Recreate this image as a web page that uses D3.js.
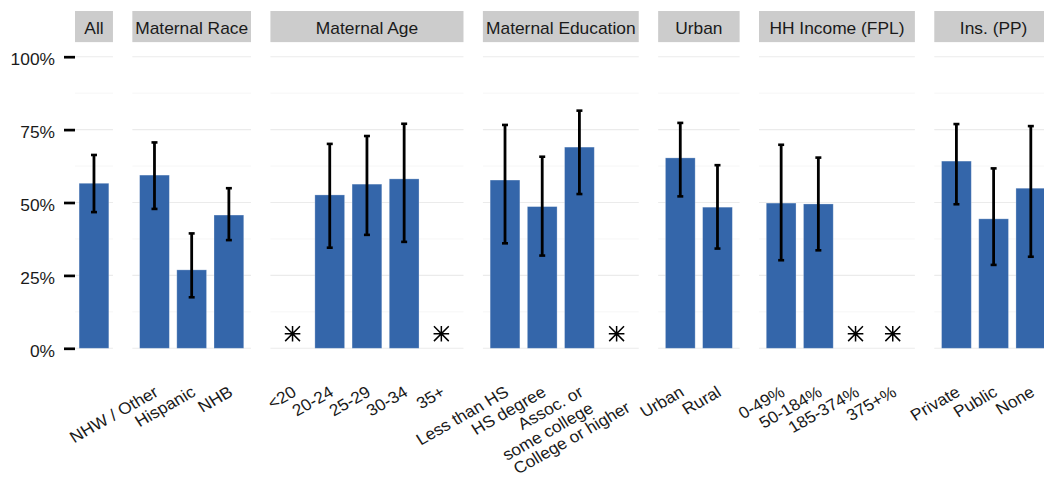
<!DOCTYPE html>
<html>
<head>
<meta charset="utf-8">
<script src="https://cdn.jsdelivr.net/npm/d3@7"></script>
<style>
  html, body { margin: 0; padding: 0; background: #ffffff; }
  svg { display: block; font-family: "Liberation Sans", Arial, Helvetica, sans-serif; }
</style>
</head>
<body>
<svg id="chart" width="1044" height="478"></svg>
<script>
// Facet groups, left to right
const panels = ["All", "Maternal Race", "Maternal Age", "Maternal Education", "Urban", "HH Income (FPL)", "Ins. (PP)"];

// One entry per category (flat, aligned arrays)
const panelOf = [
  "All",
  "Maternal Race", "Maternal Race", "Maternal Race",
  "Maternal Age", "Maternal Age", "Maternal Age", "Maternal Age", "Maternal Age",
  "Maternal Education", "Maternal Education", "Maternal Education", "Maternal Education",
  "Urban", "Urban",
  "HH Income (FPL)", "HH Income (FPL)", "HH Income (FPL)", "HH Income (FPL)",
  "Ins. (PP)", "Ins. (PP)", "Ins. (PP)"
];
const category = [
  "",
  "NHW / Other", "Hispanic", "NHB",
  "<20", "20-24", "25-29", "30-34", "35+",
  "Less than HS", "HS degree", "Assoc. or\nsome college", "College or higher",
  "Urban", "Rural",
  "0-49%", "50-184%", "185-374%", "375+%",
  "Private", "Public", "None"
];
// Percent estimates; null = suppressed (shown with an asterisk)
const estimate = [
  56.6,
  59.4, 26.9, 45.7,
  null, 52.6, 56.3, 58.1, null,
  57.7, 48.6, 69.0, null,
  65.3, 48.4,
  49.8, 49.5, null, null,
  64.2, 44.4, 54.9
];
const lower = [
  46.7,
  47.8, 17.5, 37.1,
  null, 34.5, 38.9, 36.5, null,
  36.0, 31.8, 52.9, null,
  52.1, 34.2,
  30.2, 33.6, null, null,
  49.4, 28.6, 31.4
];
const upper = [
  66.3,
  70.6, 39.4, 54.9,
  null, 70.1, 72.8, 77.0, null,
  76.6, 65.7, 81.5, null,
  77.3, 62.8,
  69.8, 65.4, null, null,
  76.9, 61.7, 76.2
];
// Extra perpendicular line offset for a few rotated tick labels
const labelShift = [
  0,
  0, 0, 0,
  0, 0, 0, 0, 0,
  0, 0, 0, 0.95,
  0, 0,
  0, 0, 0, 0,
  0, 0, 0
];
const suppressedAt = 5;            // where the asterisk sits (percent)
const yTicks = [0, 25, 50, 75, 100];
const yMinor = [12.5, 37.5, 62.5, 87.5];

const rows = category.map((c, i) => ({
  panel: panelOf[i], key: i + "", label: c,
  est: estimate[i], lo: lower[i], hi: upper[i], shift: labelShift[i]
}));

const svg = d3.select("#chart");
const FONT = 16.4;      // glyph height
const SX = 1.06;        // slightly wide lettering
const BLUE = "#3466aa";

// Vertical layout
const y = d3.scaleLinear().domain([0, 100]).range([348.3, 56.7]);
const panelTop = y(105);
const stripTop = 11;

// Horizontal layout: every category gets the same width
const step = 37.2, gap = 19.4, left = 75;
let cursor = left;
const layout = panels.map(p => {
  const sub = rows.filter(r => r.panel === p);
  const outer = sub.length === 1 ? 0.11 : 0.195;
  const w = step * (sub.length - 0.2 + 2 * outer);
  const x = d3.scaleBand().domain(sub.map(r => r.key))
    .range([cursor, cursor + w]).paddingInner(0.2).paddingOuter(outer);
  const out = { name: p, rows: sub, x, x0: cursor, x1: cursor + w };
  cursor += w + gap;
  return out;
});

// Panels
layout.forEach(P => {
  const g = svg.append("g");

  // minor + major grid
  g.selectAll("line.minor").data(yMinor).join("line")
    .attr("x1", P.x0).attr("x2", P.x1)
    .attr("y1", d => y(d)).attr("y2", d => y(d))
    .attr("stroke", "#f6f6f6").attr("stroke-width", 1);
  g.selectAll("line.major").data(yTicks).join("line")
    .attr("x1", P.x0).attr("x2", P.x1)
    .attr("y1", d => y(d)).attr("y2", d => y(d))
    .attr("stroke", "#ebebeb").attr("stroke-width", 1.1);

  // strip
  g.append("rect")
    .attr("x", P.x0).attr("y", stripTop)
    .attr("width", P.x1 - P.x0).attr("height", panelTop - stripTop)
    .attr("fill", "#cccccc");
  g.append("text")
    .attr("transform", `translate(${(P.x0 + P.x1) / 2},34.3) scale(${SX},1)`)
    .attr("text-anchor", "middle").attr("font-size", FONT).attr("fill", "#1a1a1a")
    .text(P.name);

  const bw = P.x.bandwidth();
  const shown = P.rows.filter(r => r.est !== null);
  const hidden = P.rows.filter(r => r.est === null);

  // bars
  g.selectAll("rect.bar").data(shown).join("rect")
    .attr("x", r => P.x(r.key)).attr("width", bw)
    .attr("y", r => y(r.est)).attr("height", r => y(0) - y(r.est))
    .attr("fill", BLUE)
    .attr("stroke", "rgba(255,255,255,0.35)").attr("stroke-width", 0.8);

  // error bars
  const cap = 6;
  const eb = g.selectAll("g.err").data(shown).join("g")
    .attr("stroke", "#000");
  eb.append("line")
    .attr("x1", r => P.x(r.key) + bw / 2).attr("x2", r => P.x(r.key) + bw / 2)
    .attr("y1", r => y(r.hi)).attr("y2", r => y(r.lo))
    .attr("stroke-width", 2.8);
  eb.append("line")
    .attr("x1", r => P.x(r.key) + bw / 2 - cap / 2).attr("x2", r => P.x(r.key) + bw / 2 + cap / 2)
    .attr("y1", r => y(r.hi)).attr("y2", r => y(r.hi))
    .attr("stroke-width", 2.6);
  eb.append("line")
    .attr("x1", r => P.x(r.key) + bw / 2 - cap / 2).attr("x2", r => P.x(r.key) + bw / 2 + cap / 2)
    .attr("y1", r => y(r.lo)).attr("y2", r => y(r.lo))
    .attr("stroke-width", 2.6);

  // asterisks for suppressed estimates (plus + cross)
  const s = 7.8, d = 7.4;
  const star = `M0,${-s}V${s}M${-s},0H${s}M${-d},${-d}L${d},${d}M${-d},${d}L${d},${-d}`;
  g.selectAll("path.star").data(hidden).join("path")
    .attr("transform", r => `translate(${P.x(r.key) + bw / 2},${y(suppressedAt)})`)
    .attr("d", star).attr("fill", "none").attr("stroke", "#000").attr("stroke-width", 1.5);

  // rotated category labels
  const lineH = 19, ang = 31;
  const a = ang * Math.PI / 180;
  const lab = g.selectAll("text.cat").data(P.rows).join("text")
    .attr("transform", r => {
      const cx = P.x(r.key) + bw / 2 - 1.5;
      const off = r.shift * lineH;
      return `translate(${cx + SX * off * Math.sin(a)},${385 + off * Math.cos(a)}) scale(${SX},1) rotate(${-ang})`;
    })
    .attr("text-anchor", "end").attr("font-size", FONT).attr("fill", "#1a1a1a");
  lab.each(function (r) {
    const t = d3.select(this);
    r.label.split("\n").forEach((ln, i) => {
      t.append("tspan").attr("x", 0).attr("y", 0)
        .attr("dy", (0.72 + i * lineH / FONT) + "em").text(ln);
    });
  });
});

// y axis
const yAxis = d3.axisLeft(y).tickValues(yTicks).tickFormat(d => d + "%")
  .tickSize(11).tickPadding(9);
const ya = svg.append("g").attr("transform", `translate(${left},0)`).call(yAxis);
ya.select(".domain").remove();
ya.selectAll(".tick line").attr("stroke", "#000").attr("stroke-width", 2.7);
ya.selectAll(".tick text")
  .attr("x", 0)
  .attr("transform", `translate(-20,0) scale(${SX},1)`)
  .attr("font-size", FONT).attr("fill", "#1a1a1a")
  .attr("font-family", "\"Liberation Sans\", Arial, sans-serif")
  .attr("dy", "0.47em");
</script>
</body>
</html>
